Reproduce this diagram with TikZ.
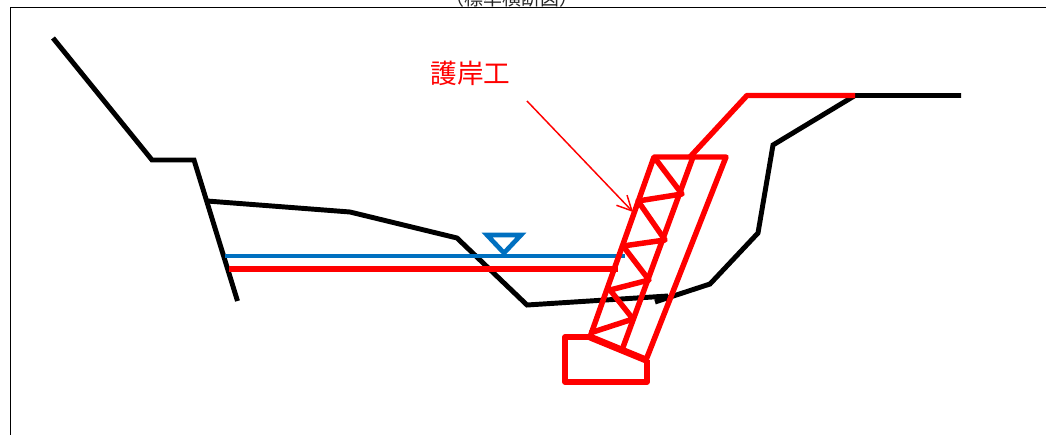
\documentclass[tikz,border=0pt]{standalone}
\usepackage{fontspec}
\newfontfamily\cjk{Noto Sans CJK JP}
\usetikzlibrary{arrows.meta}
\tikzset{
  frameline/.style={black,line width=1.1pt},
  ground/.style={black,line width=3.7pt,line join=miter},
  work/.style={red,line width=4.1pt,line join=round},
  workbase/.style={red,line width=5.2pt},
  water/.style={draw={rgb,255:red,0;green,112;blue,192},line width=3.5pt},
  railred/.style={red,line width=4.4pt},
  leader/.style={red,line width=1.1pt,-{Straight Barb[length=11pt,width=11pt,line width=1.1pt]}}
}
\begin{document}
\begin{tikzpicture}[x=0.75pt,y=-0.75pt]
\useasboundingbox (0,0) rectangle (1046,435);
\clip (0,0) rectangle (1046,435);
\coordinate (fa) at (10.5,435);
\coordinate (fb) at (10.5,7.5);
\coordinate (fc) at (1046,7.5);
\draw[frameline] (fa) -- (fb) -- (fc);
\node[font=\cjk\fontsize{14.2pt}{14.2pt}\selectfont,text=black!85] (title) at (512,-1.5) {（標準横断図）};
\node[font=\cjk\fontsize{20pt}{20pt}\selectfont,text=red] (label) at (470.5,73) {護岸工};
% ground
\draw[ground] (53,38) -- (152,160) -- (194,160) -- (237.5,301);
\draw[ground] (207,201) -- (350,212) -- (457,238) -- (527,305) -- (668,296);
\draw[ground] (655,302) -- (710,284) -- (758,233) -- (773,145) -- (855,95.5) -- (961,95.5);
% water
\draw[water] (225,256) -- (625,256);
\draw[water] (487,235) -- (521,235) -- (504,253) -- cycle;
% red
\draw[railred] (229,269) -- (618,269);
\draw[work] (690,157) -- (747,95.5) -- (855,95.5);
\draw[work] (654,157) -- (726,157) -- (646,360) -- (590,337) -- cycle;
\draw[work] (693,157) -- (622,350);
\draw[work] (654,157) -- (682,194) -- (638,201) -- (665,240) -- (623,246) -- (649,280) -- (610,290) -- (633,319) -- (590,333);
\draw[workbase] (590,337) -- (646,360);
\draw[work] (590,337) -- (565,337) -- (565,382) -- (647,382) -- (647,360);
\coordinate (la) at (527,101);
\coordinate (lb) at (633,212);
\draw[leader] (la) -- (lb);
\end{tikzpicture}
\end{document}
